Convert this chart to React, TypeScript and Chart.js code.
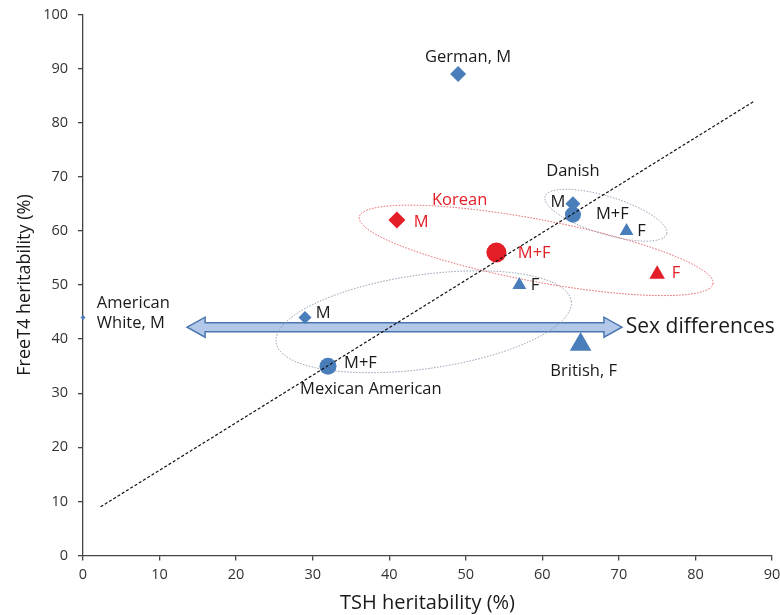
import { useEffect, useRef } from "react";
import { Chart, registerables } from "chart.js";

Chart.register(...registerables);

// ---- data (TSH heritability %, FreeT4 heritability %) ----
const xTickValues = [0, 10, 20, 30, 40, 50, 60, 70, 80, 90];
const yTickValues = [0, 10, 20, 30, 40, 50, 60, 70, 80, 90, 100];

// German M, American White M, Mexican American M, Danish M
const blueMale = [
  { x: 49, y: 89 },
  { x: 0, y: 44 },
  { x: 29, y: 44 },
  { x: 64, y: 65 },
];
// Mexican American M+F, Danish M+F
const blueBoth = [
  { x: 32, y: 35 },
  { x: 64, y: 63 },
];
// Mexican American F, Danish F, British F
const blueFemale = [
  { x: 57, y: 50 },
  { x: 71, y: 60 },
  { x: 65, y: 39 },
];
const koreanMale = [{ x: 41, y: 62 }];
const koreanBoth = [{ x: 54, y: 56 }];
const koreanFemale = [{ x: 75, y: 52 }];
const trendLine = [
  { x: 2.3, y: 9 },
  { x: 87.7, y: 84 },
];

// ---- annotations ----
const BLUE = "#4a7ebb";
const RED = "#e41e26";
const TEXT = "#1a1a1a";
const FONT = "'Open Sans', 'Noto Sans', sans-serif";

const textLabels = [
  { t: "German, M", x: 50.3, y: 92.1, c: TEXT, a: "center", s: 16.5 },
  { t: "American", x: 1.8, y: 46.7, c: TEXT, a: "left", s: 16.5 },
  { t: "White, M", x: 1.8, y: 43.0, c: TEXT, a: "left", s: 16.5 },
  { t: "M", x: 30.4, y: 44.8, c: TEXT, a: "left", s: 16.5 },
  { t: "M+F", x: 34.1, y: 35.6, c: TEXT, a: "left", s: 16.5 },
  { t: "Mexican American", x: 37.6, y: 30.8, c: TEXT, a: "center", s: 16.5 },
  { t: "F", x: 58.5, y: 50.0, c: TEXT, a: "left", s: 16.5 },
  { t: "Danish", x: 60.5, y: 71.1, c: TEXT, a: "left", s: 16.5 },
  { t: "M", x: 63.0, y: 65.2, c: TEXT, a: "right", s: 16.5 },
  { t: "M+F", x: 67.0, y: 63.1, c: TEXT, a: "left", s: 16.5 },
  { t: "F", x: 72.4, y: 60.0, c: TEXT, a: "left", s: 16.5 },
  { t: "Korean", x: 49.2, y: 65.7, c: RED, a: "center", s: 16.5 },
  { t: "M", x: 43.2, y: 61.6, c: RED, a: "left", s: 16.5 },
  { t: "M+F", x: 56.8, y: 55.9, c: RED, a: "left", s: 16.5 },
  { t: "F", x: 76.9, y: 52.2, c: RED, a: "left", s: 16.5 },
  { t: "British, F", x: 65.4, y: 34.1, c: TEXT, a: "center", s: 16.5 },
  { t: "Sex differences", x: 70.9, y: 42.2, c: TEXT, a: "left", s: 21 },
];

const ellipses = [
  { cx: 44.5, cy: 43.2, rx: 149, ry: 47, rot: -8, color: "#8d99ad" },
  { cx: 59.2, cy: 56.4, rx: 180, ry: 31, rot: 10.7, color: "#e4585c" },
  { cx: 68.3, cy: 62.9, rx: 63.6, ry: 18.8, rot: 17.1, color: "#8d99ad" },
];

const arrow = { from: 13.6, to: 70.4, y: 42.2 };
const PLOT_RIGHT_GAP = 8;

const annotationPlugin = {
  id: "annotations",
  afterLayout(chart: any) {
    // keep the plot area flush to the right like the original
    const xs = chart.scales.x;
    const target = chart.width - PLOT_RIGHT_GAP;
    if (Math.abs(xs.right - target) > 0.01) {
      xs.right = target;
      xs.width = target - xs.left;
      xs.configure();
      chart.chartArea.right = target;
      chart.chartArea.width = target - chart.chartArea.left;
    }
  },
  beforeDatasetsDraw(chart: any) {
    const { ctx } = chart;
    const xs = chart.scales.x;
    const ys = chart.scales.y;
    ctx.save();
    // double-headed arrow
    const x1 = xs.getPixelForValue(arrow.from);
    const x2 = xs.getPixelForValue(arrow.to);
    const yc = ys.getPixelForValue(arrow.y);
    const hl = 18, hh = 10, sh = 4.5;
    ctx.beginPath();
    ctx.moveTo(x1, yc);
    ctx.lineTo(x1 + hl, yc - hh);
    ctx.lineTo(x1 + hl, yc - sh);
    ctx.lineTo(x2 - hl, yc - sh);
    ctx.lineTo(x2 - hl, yc - hh);
    ctx.lineTo(x2, yc);
    ctx.lineTo(x2 - hl, yc + hh);
    ctx.lineTo(x2 - hl, yc + sh);
    ctx.lineTo(x1 + hl, yc + sh);
    ctx.lineTo(x1 + hl, yc + hh);
    ctx.closePath();
    ctx.fillStyle = "#b3c8e8";
    ctx.fill();
    ctx.lineWidth = 1.5;
    ctx.strokeStyle = "#4a76b0";
    ctx.stroke();
    // ellipses
    ctx.lineWidth = 1;
    ctx.setLineDash([1.5, 1.5]);
    for (const e of ellipses) {
      ctx.beginPath();
      ctx.ellipse(
        xs.getPixelForValue(e.cx),
        ys.getPixelForValue(e.cy),
        e.rx,
        e.ry,
        (e.rot * Math.PI) / 180,
        0,
        Math.PI * 2
      );
      ctx.strokeStyle = e.color;
      ctx.stroke();
    }
    ctx.restore();
  },
  afterDraw(chart: any) {
    const { ctx } = chart;
    const xs = chart.scales.x;
    const ys = chart.scales.y;
    ctx.save();
    ctx.textBaseline = "middle";
    for (const l of textLabels) {
      ctx.font = `${l.s}px ${FONT}`;
      ctx.fillStyle = l.c;
      ctx.textAlign = l.a;
      ctx.fillText(l.t, xs.getPixelForValue(l.x), ys.getPixelForValue(l.y));
    }
    ctx.restore();
  },
};

export default function App() {
  const ref = useRef<HTMLCanvasElement>(null);
  useEffect(() => {
    if (!ref.current) return;
    const chart = new Chart(ref.current, {
      type: "scatter",
      data: {
        datasets: [
          {
            label: "trend",
            data: trendLine,
            showLine: true,
            pointRadius: 0,
            borderColor: "#111",
            borderWidth: 1.2,
            borderDash: [3, 2],
            clip: false,
          } as any,
          {
            label: "blue M",
            data: blueMale,
            pointStyle: "rectRot",
            pointRadius: [8, 2.5, 6.5, 7.5],
            backgroundColor: BLUE,
            borderColor: BLUE,
            borderWidth: 0,
            clip: false,
          },
          {
            label: "blue M+F",
            data: blueBoth,
            pointStyle: "circle",
            pointRadius: [8.5, 8],
            backgroundColor: BLUE,
            borderColor: BLUE,
            borderWidth: 0,
            clip: false,
          },
          {
            label: "blue F",
            data: blueFemale,
            pointStyle: "triangle",
            pointRadius: [8, 8, 12.5],
            backgroundColor: BLUE,
            borderColor: BLUE,
            borderWidth: 0,
            clip: false,
          },
          {
            label: "Korean M",
            data: koreanMale,
            pointStyle: "rectRot",
            pointRadius: 8.5,
            backgroundColor: RED,
            borderWidth: 0,
            clip: false,
          },
          {
            label: "Korean M+F",
            data: koreanBoth,
            pointStyle: "circle",
            pointRadius: 10,
            backgroundColor: RED,
            borderWidth: 0,
            clip: false,
          },
          {
            label: "Korean F",
            data: koreanFemale,
            pointStyle: "triangle",
            pointRadius: 9,
            backgroundColor: RED,
            borderWidth: 0,
            clip: false,
          },
        ],
      },
      options: {
        responsive: false,
        animation: false,
        events: [],
        layout: { padding: { top: 14.5, right: 3, left: 0, bottom: 0 } },
        plugins: { legend: { display: false }, tooltip: { enabled: false } },
        scales: {
          x: {
            type: "linear",
            min: 0,
            max: 90,
            afterBuildTicks: (s: any) => {
              s.ticks = xTickValues.map((v) => ({ value: v }));
            },
            afterFit: (s: any) => {
              s.height = 59.5;
              s.paddingLeft = 0;
              s.paddingRight = 0;
            },
            ticks: {
              color: "#333",
              font: { family: FONT, size: 14.5 },
              padding: 6,
            },
            grid: {
              drawOnChartArea: false,
              drawTicks: true,
              tickLength: 5,
              color: "#444",
              lineWidth: 1.3,
            },
            border: { display: true, color: "#444", width: 1.3 },
            title: {
              display: true,
              text: "TSH heritability (%)",
              color: "#1a1a1a",
              font: { family: FONT, size: 20 },
              padding: 0,
            },
          },
          y: {
            type: "linear",
            min: 0,
            max: 100,
            afterBuildTicks: (s: any) => {
              s.ticks = yTickValues.map((v) => ({ value: v }));
            },
            afterFit: (s: any) => {
              s.width = 83;
              s.paddingTop = 0;
              s.paddingBottom = 0;
            },
            ticks: {
              color: "#333",
              font: { family: FONT, size: 14.5 },
              padding: 10,
            },
            grid: {
              drawOnChartArea: false,
              drawTicks: true,
              tickLength: 5,
              color: "#444",
              lineWidth: 1.3,
            },
            border: { display: true, color: "#444", width: 1.3 },
            title: {
              display: true,
              text: "FreeT4 heritability (%)",
              color: "#1a1a1a",
              font: { family: FONT, size: 18 },
              padding: { top: 14, bottom: 0 },
            },
          },
        },
      },
      plugins: [annotationPlugin],
    } as any);
    return () => chart.destroy();
  }, []);
  return (
    <div style={{ position: "absolute", left: 0, top: 0, width: 780, height: 615, background: "#fff" }}>
      <canvas ref={ref} width={780} height={615} />
    </div>
  );
}
